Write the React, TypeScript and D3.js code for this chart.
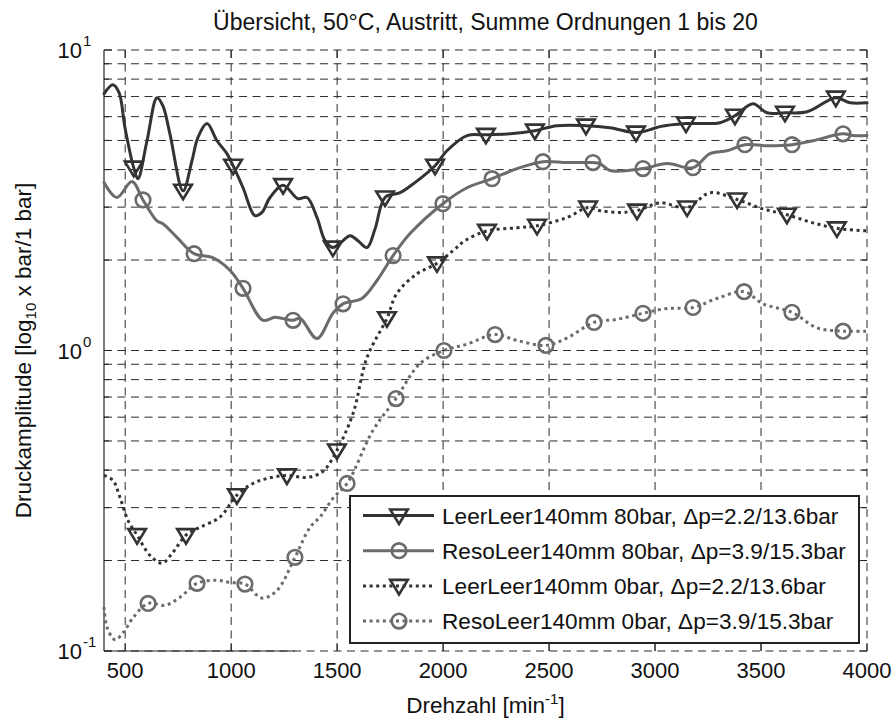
import React from 'react';
import * as d3 from 'd3';

const titleText = 'Übersicht, 50°C, Austritt, Summe Ordnungen 1 bis 20';
const xTicks = [500, 1000, 1500, 2000, 2500, 3000, 3500, 4000];
const yDecadeExps = [-1, 0, 1];
const legendLabels = [
  'LeerLeer140mm 80bar, Δp=2.2/13.6bar',
  'ResoLeer140mm 80bar, Δp=3.9/15.3bar',
  'LeerLeer140mm 0bar, Δp=2.2/13.6bar',
  'ResoLeer140mm 0bar, Δp=3.9/15.3bar',
];

// Series 1: LeerLeer140mm 80bar (solid, dark, triangles)
const s1X = [400, 442, 471, 499, 560, 603, 650, 678, 711, 815, 843, 886, 933, 980, 1056, 1112, 1145, 1183, 1315, 1358, 1405, 1443, 1518, 1561, 1598, 1641, 1679, 1797, 1867, 2018, 2113, 2316, 2537, 2787, 2990, 3023, 3306, 3462, 3528, 3717, 3920, 4000];
const s1Y = [7.15, 7.66, 7.21, 5.51, 3.73, 4.99, 6.94, 6.52, 5.26, 4.28, 5.11, 5.69, 4.99, 4.52, 3.48, 2.81, 2.88, 3.23, 3.2, 3.23, 2.77, 2.32, 2.29, 2.41, 2.32, 2.2, 2.54, 3.35, 3.62, 4.62, 5.19, 5.26, 5.6, 5.51, 5.47, 5.56, 5.73, 6.62, 6.18, 6.23, 6.67, 6.67];
const s1MX = [540, 773, 1009, 1245, 1480, 1726, 1962, 2202, 2433, 2674, 2910, 3146, 3377, 3613, 3853];
const s1MY = [4.06, 3.4, 4.12, 3.55, 2.2, 3.23, 4.12, 5.22, 5.39, 5.6, 5.31, 5.69, 6.04, 6.18, 6.94];

// Series 2: ResoLeer140mm 80bar (solid, gray, circles)
const s2X = [400, 461, 532, 650, 678, 744, 910, 994, 1150, 1207, 1325, 1405, 1480, 1617, 1688, 1844, 2113, 2349, 2584, 2740, 2787, 3056, 3259, 3339, 3528, 3745, 3934, 4000];
const s2Y = [3.62, 3.23, 3.65, 2.7, 2.64, 2.38, 2.04, 1.85, 1.26, 1.29, 1.28, 1.096, 1.33, 1.49, 1.71, 2.45, 3.48, 4.03, 4.22, 4.19, 3.97, 4.19, 4.52, 4.62, 4.8, 4.99, 5.19, 5.19];
const s2MX = [584, 825, 1056, 1292, 1528, 1764, 1999, 2231, 2471, 2707, 2943, 3179, 3424, 3646, 3887];
const s2MY = [3.17, 2.1, 1.61, 1.26, 1.43, 2.07, 3.08, 3.73, 4.25, 4.22, 4.03, 4.06, 4.84, 4.84, 5.26];

// Series 3: LeerLeer140mm 0bar (dotted, dark, triangles)
const s3X = [400, 442, 475, 513, 617, 674, 721, 853, 947, 1103, 1169, 1358, 1419, 1447, 1575, 1641, 1782, 1877, 2047, 2103, 2349, 2584, 2740, 2834, 3023, 3259, 3509, 3745, 4000];
const s3Y = [0.384, 0.37, 0.325, 0.272, 0.208, 0.196, 0.211, 0.258, 0.279, 0.361, 0.375, 0.378, 0.39, 0.405, 0.617, 0.948, 1.55, 1.8, 2.15, 2.32, 2.56, 2.77, 2.92, 2.88, 3.1, 3.35, 2.96, 2.66, 2.5];
const s3MX = [556, 787, 1027, 1263, 1499, 1735, 1971, 2207, 2443, 2684, 2915, 3151, 3387, 3622, 3858];
const s3MY = [0.243, 0.243, 0.33, 0.384, 0.465, 1.28, 1.95, 2.5, 2.6, 2.99, 2.92, 2.99, 3.18, 2.83, 2.55];

// Series 4: ResoLeer140mm 0bar (dotted, gray, circles)
const s4X = [400, 414, 452, 490, 537, 688, 759, 933, 994, 1145, 1216, 1372, 1419, 1480, 1669, 1891, 2113, 2349, 2584, 2820, 3056, 3292, 3509, 3764, 4000];
const s4Y = [0.14, 0.12, 0.109, 0.115, 0.129, 0.142, 0.151, 0.172, 0.169, 0.15, 0.159, 0.258, 0.279, 0.322, 0.542, 0.905, 1.05, 1.08, 1.1, 1.27, 1.38, 1.49, 1.43, 1.19, 1.16];
const s4MX = [608, 839, 1065, 1301, 1547, 1778, 2004, 2245, 2485, 2712, 2943, 3179, 3420, 3646, 3887];
const s4MY = [0.144, 0.168, 0.167, 0.205, 0.361, 0.692, 1.0, 1.13, 1.04, 1.24, 1.33, 1.39, 1.57, 1.34, 1.16];

const DARK = '#333333';
const GRAY = '#6b6b6b';
const FONT = '"Liberation Sans", Arial, Helvetica, sans-serif';

const W = 896;
const H = 722;
const M = { left: 104, right: 867, top: 50, bottom: 651 };

type Series = {
  x: number[]; y: number[]; mx: number[]; my: number[];
  color: string; dotted: boolean; marker: 'tri' | 'circ';
};

const series: Series[] = [
  { x: s1X, y: s1Y, mx: s1MX, my: s1MY, color: DARK, dotted: false, marker: 'tri' },
  { x: s2X, y: s2Y, mx: s2MX, my: s2MY, color: GRAY, dotted: false, marker: 'circ' },
  { x: s3X, y: s3Y, mx: s3MX, my: s3MY, color: DARK, dotted: true, marker: 'tri' },
  { x: s4X, y: s4Y, mx: s4MX, my: s4MY, color: GRAY, dotted: true, marker: 'circ' },
];

function Marker({ kind, cx, cy, color }: { kind: 'tri' | 'circ'; cx: number; cy: number; color: string }) {
  if (kind === 'circ') {
    return <circle cx={cx} cy={cy} r={7.3} fill="none" stroke={color} strokeWidth={2.6} />;
  }
  const p = `M${cx - 8.8},${cy - 6} L${cx + 8.8},${cy - 6} L${cx},${cy + 8.5} Z`;
  return <path d={p} fill="none" stroke={color} strokeWidth={2.6} strokeLinejoin="miter" />;
}

export default function App() {
  const x = d3.scaleLinear().domain([400, 4000]).range([M.left, M.right]);
  const y = d3.scaleLog().domain([0.1, 10]).range([M.bottom, M.top]);

  const yGrid: number[] = [];
  for (const e of [-1, 0]) {
    for (let k = 1; k <= 9; k++) yGrid.push(k * Math.pow(10, e));
  }
  yGrid.push(10);

  const line = d3
    .line<[number, number]>()
    .x((d) => x(d[0]))
    .y((d) => y(d[1]))
    .curve(d3.curveCatmullRom.alpha(0.5));

  const gridDash = '8,5.5';
  const tickLen = 8;
  const minorLen = 5;

  const legX = 350, legY = 496, legW = 509, legH = 147;
  const legRow0 = 515.5, legDy = 35.2;

  return (
    <svg width={W} height={H} style={{ position: 'absolute', left: 0, top: 0, background: '#fff' }} fontFamily={FONT}>
      <rect x={0} y={0} width={W} height={H} fill="#fff" />
      {/* horizontal grid */}
      {yGrid.map((v, i) => (
        <line key={'hg' + i} x1={M.left} x2={M.right} y1={y(v)} y2={y(v)} stroke="#2a2a2a" strokeWidth={1} strokeDasharray={gridDash} />
      ))}
      {/* vertical grid */}
      {xTicks.map((v) => (
        <line key={'vg' + v} x1={x(v)} x2={x(v)} y1={M.top} y2={M.bottom} stroke="#2a2a2a" strokeWidth={1} strokeDasharray={gridDash} />
      ))}
      {/* ticks */}
      {xTicks.map((v) => (
        <g key={'xt' + v}>
          <line x1={x(v)} x2={x(v)} y1={M.bottom} y2={M.bottom - tickLen} stroke="#222" strokeWidth={1} />
          <line x1={x(v)} x2={x(v)} y1={M.top} y2={M.top + tickLen} stroke="#222" strokeWidth={1} />
        </g>
      ))}
      {yGrid.map((v, i) => {
        const major = yDecadeExps.some((e) => Math.abs(Math.pow(10, e) - v) < 1e-9);
        const L = major ? tickLen : minorLen;
        return (
          <g key={'yt' + i}>
            <line x1={M.left} x2={M.left + L} y1={y(v)} y2={y(v)} stroke="#222" strokeWidth={1} />
            <line x1={M.right} x2={M.right - L} y1={y(v)} y2={y(v)} stroke="#222" strokeWidth={1} />
          </g>
        );
      })}
      {/* axis lines */}
      <line x1={M.left} x2={M.left} y1={M.top} y2={M.bottom} stroke="#222" strokeWidth={1.2} />
      <line x1={M.left} x2={x(1300)} y1={M.bottom} y2={M.bottom} stroke="#222" strokeWidth={1.2} />

      {/* series lines */}
      {series.map((s, i) => {
        const pts: [number, number][] = [];
        s.x.forEach((xv, j) => pts.push([xv, s.y[j]]));
        s.mx.forEach((xv, j) => pts.push([xv, s.my[j]]));
        pts.sort((a, b) => a[0] - b[0]);
        return (
          <path key={'ln' + i} d={line(pts) || ''} fill="none" stroke={s.color} strokeWidth={3}
            strokeDasharray={s.dotted ? '3,3.6' : undefined} strokeLinejoin="round" strokeLinecap={s.dotted ? 'butt' : 'round'} />
        );
      })}
      {series.map((s, i) => (
        <g key={'mk' + i}>
          {s.mx.map((xv, j) => (
            <Marker key={j} kind={s.marker} cx={x(xv)} cy={y(s.my[j])} color={s.color} />
          ))}
        </g>
      ))}

      {/* y tick labels */}
      {yDecadeExps.map((e) => {
        const yy = y(Math.pow(10, e));
        return (
          <g key={'yl' + e}>
            <text x={82} y={yy + 8} textAnchor="end" fontSize={22} fill="#111">10</text>
            <text x={83} y={yy - 4} textAnchor="start" fontSize={15} fill="#111">{String(e)}</text>
          </g>
        );
      })}
      {/* x tick labels */}
      {xTicks.map((v) => (
        <text key={'xl' + v} x={x(v)} y={678} textAnchor="middle" fontSize={22} fill="#111">{v}</text>
      ))}

      {/* title */}
      <text x={(M.left + M.right) / 2} y={30} textAnchor="middle" fontSize={23} fill="#111">{titleText}</text>
      {/* x label */}
      <text x={(M.left + M.right) / 2} y={713} textAnchor="middle" fontSize={22.5} fill="#111">
        Drehzahl [min<tspan dy={-9} fontSize={15}>-1</tspan><tspan dy={9}>]</tspan>
      </text>
      {/* y label */}
      <text transform={`translate(31, ${(M.top + M.bottom) / 2}) rotate(-90)`} textAnchor="middle" fontSize={22.5} fill="#111">
        Druckamplitude [log<tspan dy={5} fontSize={15}>10</tspan><tspan dy={-5}> x bar/1 bar]</tspan>
      </text>

      {/* legend */}
      <rect x={legX} y={legY} width={legW} height={legH} fill="#fff" stroke="#222" strokeWidth={2} />
      {series.map((s, i) => {
        const yy = legRow0 + i * legDy;
        return (
          <g key={'lg' + i}>
            <line x1={363} x2={434} y1={yy} y2={yy} stroke={s.color} strokeWidth={3}
              strokeDasharray={s.dotted ? '3,3.6' : undefined} />
            <Marker kind={s.marker} cx={399} cy={yy} color={s.color} />
            <text x={442} y={yy + 8} fontSize={22.6} fill="#111">{legendLabels[i]}</text>
          </g>
        );
      })}
    </svg>
  );
}
